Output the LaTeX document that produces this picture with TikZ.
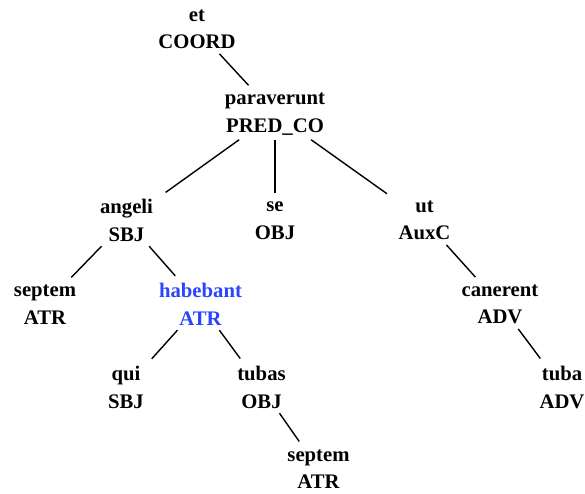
\documentclass[tikz,border=0pt]{standalone}
\usepackage{fontspec}
\setmainfont{Liberation Serif}
\usepackage{tikz}
\usetikzlibrary{positioning}
\usepackage{xcolor}
\definecolor{focus}{HTML}{2A44FF}
\tikzset{
  tok/.style={rectangle,align=center,text=black,inner xsep=12pt,inner ysep=4.5pt,
    font=\bfseries\fontsize{20.7}{27.5}\selectfont,
    execute at begin node={\rule{0pt}{14.5pt}}},
  tokfocus/.style={tok,text=focus},
  depedge/.style={line width=1.4pt,color=black,shorten >=4pt},
}

\begin{document}
\begin{tikzpicture}[x=1pt,y=-1pt]
  \useasboundingbox (0,0) rectangle (585,493);
  % tokens, row by row
  \node[tok] (et)   at (197,29.5)  {et\\COORD};
  \node[tok] (par)  at (275,114)   {paraverunt\\PRED\_CO};
  \node[tok] (ang)  at (126.5,220.5) {angeli\\SBJ};
  \node[tok] (se)   at (275,220.5) {se\\OBJ};
  \node[tok] (ut)   at (424.5,220.5) {ut\\AuxC};
  \node[tok] (sep1) at (45,304.5)  {septem\\ATR};
  \node[tokfocus] (hab) at (200.5,304.5) {habebant\\ATR};
  \node[tok] (can)  at (500,304.5) {canerent\\ADV};
  \node[tok] (qui)  at (126,387.5) {qui\\SBJ};
  \node[tok] (tubs) at (261.5,387.5) {tubas\\OBJ};
  \node[tok] (tuba) at (562,387.5) {tuba\\ADV};
  \node[tok] (sep2) at (318.5,469) {septem\\ATR};
  % dependencies
  \draw[depedge] (et) -- (par);
  \draw[depedge] (par) -- (ang);
  \draw[depedge] (par) -- (se);
  \draw[depedge] (par) -- (ut);
  \draw[depedge] (ang) -- (sep1);
  \draw[depedge] (ang) -- (hab);
  \draw[depedge] (hab) -- (qui);
  \draw[depedge] (hab) -- (tubs);
  \draw[depedge] (tubs) -- (sep2);
  \draw[depedge] (ut) -- (can);
  \draw[depedge] (can) -- (tuba);
\end{tikzpicture}
\end{document}
